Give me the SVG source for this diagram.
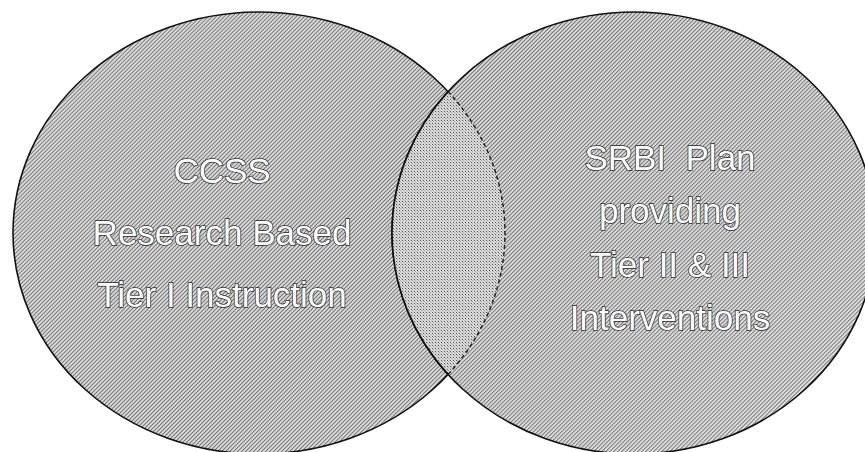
<svg xmlns="http://www.w3.org/2000/svg" width="865" height="452" viewBox="0 0 865 452">
  <style>
    .label { font-family: "Liberation Sans", Arial, sans-serif; font-size: 35px; fill: #ffffff; stroke: #2a2a2a; stroke-width: 1.5px; paint-order: stroke; text-anchor: middle; white-space: pre; }
    .edge { fill: none; stroke: #111111; stroke-width: 1.6; }
    .edge-dashed { fill: none; stroke: #222222; stroke-width: 1.5; stroke-dasharray: 4 3; }
  </style>
  <defs>
    <!-- diagonal "/" hatching used for both sets -->
    <pattern id="hatch" patternUnits="userSpaceOnUse" width="2.83" height="2.83" patternTransform="rotate(45)">
      <rect width="2.83" height="2.83" fill="#f2f2f2"/>
      <rect x="0" y="0" width="0.7" height="2.83" fill="#4a4a4a"/>
      <rect x="1.4" y="0" width="0.8" height="2.83" fill="#bcbcbc"/>
    </pattern>
    <!-- finer stipple for the shared region -->
    <pattern id="stipple" patternUnits="userSpaceOnUse" width="3" height="3">
      <rect width="3" height="3" fill="#dadada"/>
      <rect x="0" y="0" width="1" height="1" fill="#555555"/>
      <rect x="1" y="1" width="1" height="1" fill="#a8a8a8"/>
      <rect x="2" y="2" width="1" height="1" fill="#c0c0c0"/>
    </pattern>
    <clipPath id="leftClip">
      <ellipse cx="259" cy="233" rx="246" ry="221"/>
    </clipPath>
  </defs>

  <!-- left set: core instruction -->
  <g id="ccss">
    <ellipse cx="259" cy="233" rx="246" ry="221" class="edge" style="fill:url(#hatch)"/>
    <text class="label" x="222" y="183">CCSS</text>
    <text class="label" x="222" y="245">Research Based</text>
    <text class="label" x="222" y="307">Tier I Instruction</text>
  </g>

  <!-- right set: intervention plan -->
  <g id="srbi">
    <ellipse cx="634" cy="233" rx="242" ry="221" class="edge" style="fill:url(#hatch)"/>
    <text class="label" x="670" y="170">SRBI&#160; Plan</text>
    <text class="label" x="670" y="223">providing</text>
    <text class="label" x="670" y="277">Tier II &amp; III</text>
    <text class="label" x="670" y="330">Interventions</text>
  </g>

  <!-- shared region of the two sets -->
  <g id="overlap">
    <ellipse cx="634" cy="233" rx="242" ry="221" fill="url(#stipple)" clip-path="url(#leftClip)"/>
    <path class="edge" d="M 448.04 91.6 A 242 221 0 0 0 448.04 374.4"/>
    <path class="edge-dashed" d="M 448.04 91.6 A 246 221 0 0 1 448.04 374.4"/>
  </g>
</svg>
